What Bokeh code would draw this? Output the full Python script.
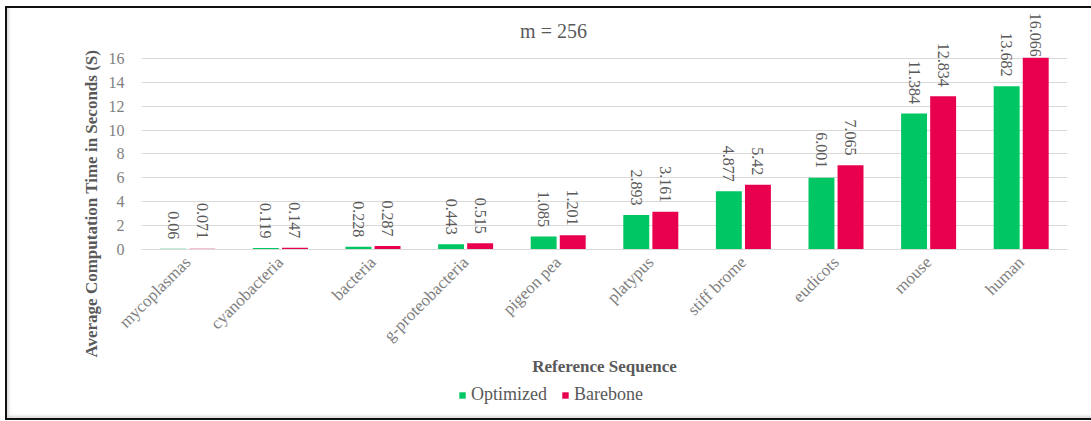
import numpy as np
from bokeh.plotting import figure
from bokeh.layouts import column
from bokeh.models import (ColumnDataSource, FactorRange, FixedTicker, Label,
                          Legend, LegendItem, Range1d, Title)
from bokeh.transform import dodge
from bokeh.embed import file_html
from bokeh.resources import INLINE
from bokeh.core.properties import value

# Average computation time (s) per reference sequence, m = 256
categories = ["mycoplasmas", "cyanobacteria", "bacteria", "g-proteobacteria",
              "pigeon pea", "platypus", "stiff brome", "eudicots", "mouse", "human"]
optimized = [0.06, 0.119, 0.228, 0.443, 1.085, 2.893, 4.877, 6.001, 11.384, 13.682]
barebone = [0.071, 0.147, 0.287, 0.515, 1.201, 3.161, 5.42, 7.065, 12.834, 16.066]
y_ticks = [0, 2, 4, 6, 8, 10, 12, 14, 16]
series_names = ["Optimized", "Barebone"]

FONT = "Liberation Serif"
GREEN = "#00c763"
RED = "#e8004f"
TEXT = "#595959"
Y_END = 19.85          # room above the 16 gridline for the rotated value labels
LABEL_GAP = 0.8        # gap between bar top and its value label (data units)
LABEL_CAP = Y_END - 3.7  # keep the longest label inside the plot area

opt_arr = np.array(optimized)
bar_arr = np.array(barebone)
src = ColumnDataSource(dict(
    cat=categories,
    opt=optimized,
    bare=barebone,
    opt_txt=[f"{v:g}" for v in optimized],
    bare_txt=[f"{v:g}" for v in barebone],
    opt_ly=np.minimum(opt_arr + LABEL_GAP, LABEL_CAP),
    bare_ly=np.minimum(bar_arr + LABEL_GAP, LABEL_CAP),
))

TOTAL_W = 1084
MAIN_H = 370

# ---- main chart ----
p = figure(
    x_range=FactorRange(*categories), y_range=Range1d(0, Y_END),
    width=TOTAL_W, height=MAIN_H, output_backend="svg", toolbar_location=None,
    min_border_left=134, min_border_right=24, min_border_top=4, min_border_bottom=129,
    background_fill_color="white", border_fill_alpha=0,
)
p.outline_line_color = None

off = 0.157
w = 0.28
p.vbar(x=dodge("cat", -off, range=p.x_range), top="opt", width=w, source=src,
       fill_color=GREEN, line_color=None)
p.vbar(x=dodge("cat", off, range=p.x_range), top="bare", width=w, source=src,
       fill_color=RED, line_color=None)

for ycol, tcol, dx in [("opt_ly", "opt_txt", -off), ("bare_ly", "bare_txt", off)]:
    p.text(x=dodge("cat", dx, range=p.x_range), y=ycol, text=tcol, source=src,
           angle=-np.pi / 2, text_align="right", text_baseline="middle",
           text_font=value(FONT), text_font_size="16px", text_color=TEXT)

p.xgrid.grid_line_color = None
p.ygrid.grid_line_color = "#d9d9d9"
p.ygrid.ticker = FixedTicker(ticks=y_ticks)

ya = p.yaxis[0]
ya.ticker = FixedTicker(ticks=y_ticks)
ya.axis_line_color = None
ya.major_tick_line_color = None
ya.minor_tick_line_color = None
ya.major_tick_out = 0
ya.major_label_standoff = 17
ya.major_label_text_font = FONT
ya.major_label_text_font_size = "16px"
ya.major_label_text_color = "#808080"

xa = p.xaxis[0]
xa.axis_line_color = "#d9d9d9"
xa.major_tick_line_color = None
xa.major_tick_out = 0
xa.major_label_orientation = np.pi / 4
xa.major_label_standoff = 10
xa.major_label_text_font = FONT
xa.major_label_text_font_size = "17px"
xa.major_label_text_color = "#808080"
xa.axis_label = "Reference Sequence"
xa.axis_label_text_font = FONT
xa.axis_label_text_font_style = "bold"
xa.axis_label_text_font_size = "17px"
xa.axis_label_text_color = TEXT
xa.axis_label_standoff = 2

# chart title, centred on the whole chart box
p.add_layout(Label(x=412, x_units="screen", y=18.26, text="m = 256",
                   text_align="center", text_baseline="middle",
                   text_font=FONT, text_font_size="20px", text_color=TEXT))

# y-axis title, anchored below the plot bottom so it centres on the full height
p.add_layout(Title(text="Average Computation Time in Seconds (S)", align="left",
                   offset=-108, text_font=FONT, text_font_size="17px",
                   text_font_style="bold", text_color=TEXT), "left")

# ---- legend strip (its frame lines up with the chart frame) ----
LEG_H = 40
lg = figure(width=TOTAL_W, height=LEG_H, x_range=Range1d(0, 1), y_range=Range1d(0, 1),
            output_backend="svg", toolbar_location=None, min_border=0,
            x_axis_type=None, y_axis_type=None, border_fill_alpha=0,
            background_fill_alpha=0)
lg.outline_line_color = None
lg.grid.visible = False
# zero-height key bars parked off the visible range; they only feed the legend swatches
key_src = ColumnDataSource(dict(x=[-1.0], top=[0.0]))
k1 = lg.vbar(x="x", top="top", width=0.1, source=key_src, fill_color=GREEN, line_color=None)
k2 = lg.vbar(x="x", top="top", width=0.1, source=key_src, fill_color=RED, line_color=None)
legend = Legend(items=[LegendItem(label=series_names[0], renderers=[k1]),
                       LegendItem(label=series_names[1], renderers=[k2])],
                orientation="horizontal", location=(317, 13),
                glyph_width=8, glyph_height=8, label_standoff=5, spacing=14,
                padding=0, margin=0, border_line_color=None,
                background_fill_alpha=0,
                label_text_font=FONT, label_text_font_size="18px",
                label_text_color=TEXT)
lg.add_layout(legend, "center")

layout = column(p, lg)
layout.margin = (6, 0, 0, 5)
layout.styles = {"border-top": "2px solid #111", "border-left": "2px solid #111",
                 "border-bottom": "2px solid #111", "border-right": "none",
                 "box-shadow": "inset 3px -3px 3px -1px rgba(0,0,0,0.15)"}

open("out.html", "w").write(file_html(layout, INLINE))
